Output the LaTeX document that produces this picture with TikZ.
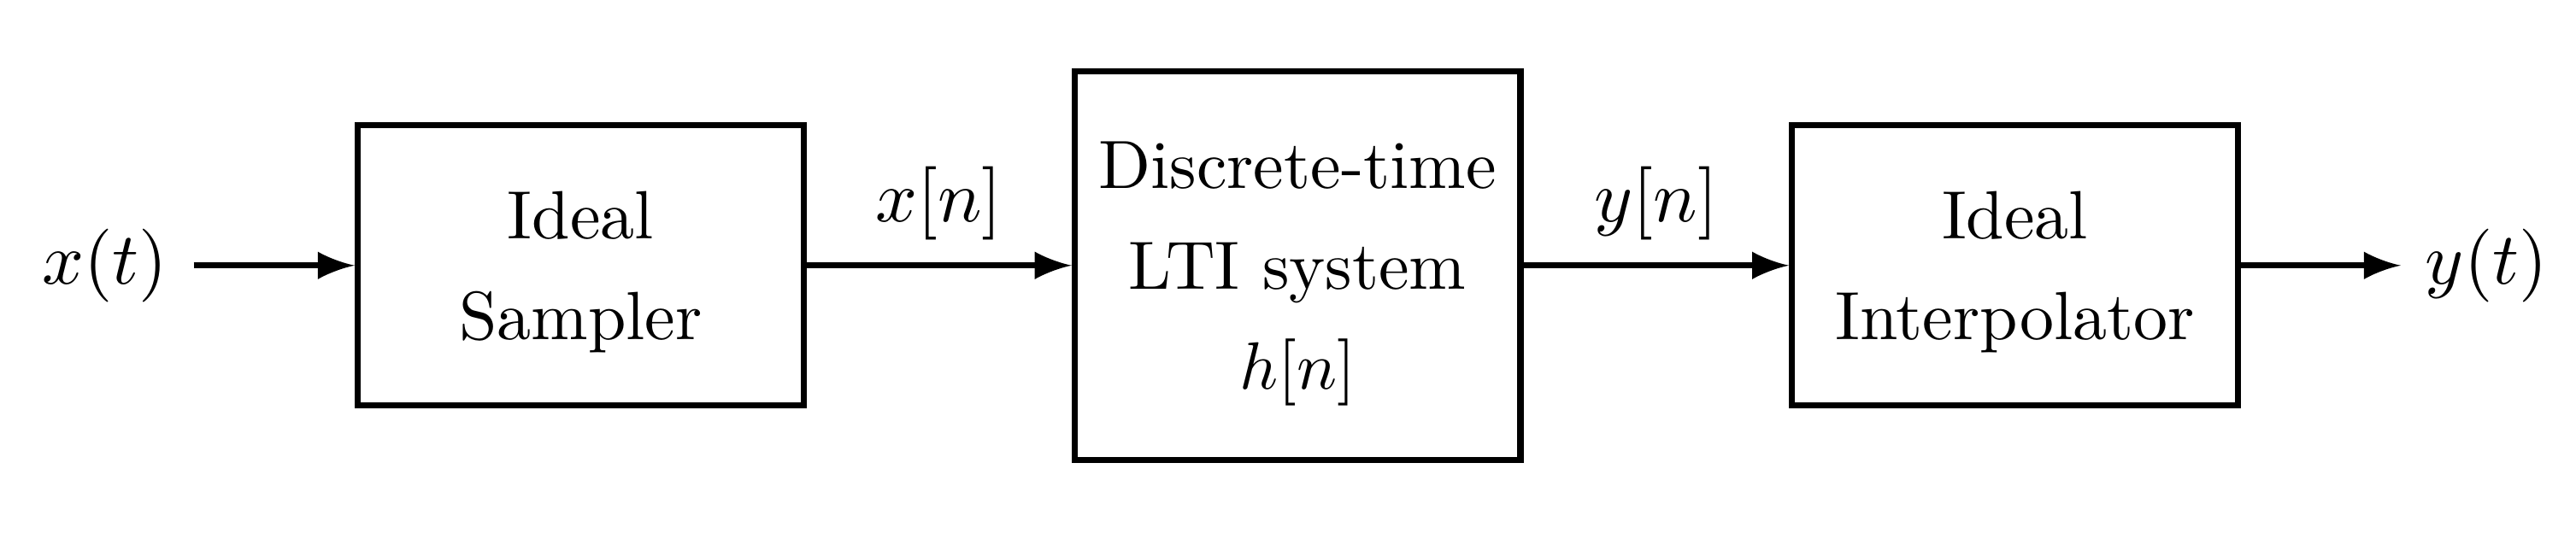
\documentclass[tikz,border=0pt]{standalone}
\usepackage{amsmath}
\usetikzlibrary{positioning}
\tikzset{blk/.style={rectangle,draw,line width=0.9pt,minimum width=2.34cm,minimum height=1.47cm,align=center,text depth=0pt,font=\fontsize{10.2}{15}\selectfont}}
\tikzset{sig/.style={->,line width=0.9pt}}

\begin{document}
\begin{tikzpicture}[>=latex]
    \useasboundingbox (0,0) rectangle (13.52,2.86);
    \node[blk] (samp)at (3.047,1.466) {Ideal\\Sampler};
    \node[blk,minimum height=2.04cm] (lti)at (6.81,1.466) {Discrete-time\\LTI system\\$h[n]$};
    \node[blk] (interp)at (10.575,1.466) {Ideal\\Interpolator};
    \node (in)at (0.55,1.466) {\fontsize{11}{13}\selectfont $x(t)$};
    \node (out)at (13.05,1.466) {\fontsize{11}{13}\selectfont $y(t)$};
    \coordinate (ina) at (1.017,1.466);
    \coordinate (outa) at (12.60,1.466);

    \draw [sig] (ina) -- (samp);
    \draw [sig] (samp) -- node[above]{\fontsize{11}{13}\selectfont $x[n]$} (lti);
    \draw [sig] (lti) -- node[above]{\fontsize{11}{13}\selectfont $y[n]$} (interp);
    \draw [sig] (interp) -- (outa);
\end{tikzpicture}
\end{document}
